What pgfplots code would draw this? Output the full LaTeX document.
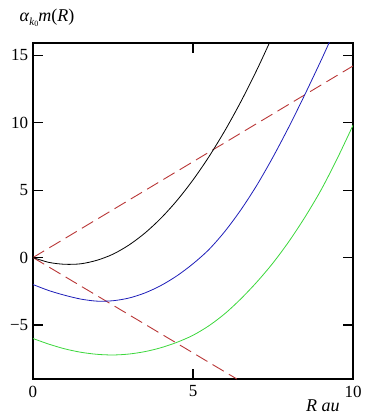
\documentclass[border=0pt]{standalone}
\usepackage{fontspec}
\setmainfont{Liberation Serif}
\usepackage{pgfplots}
\pgfplotsset{compat=1.18}
\definecolor{dred}{RGB}{185,55,55}
\definecolor{mblue}{RGB}{30,30,185}
\definecolor{mgreen}{RGB}{60,215,60}
\begin{document}
\fontsize{17}{20}\selectfont
\begin{tikzpicture}
\begin{axis}[
  at={(0,0)}, anchor=south west,
  scale only axis, width=320pt, height=336pt,
  xmin=0, xmax=10, ymin=-9, ymax=15.9,
  xtick={0,5,10}, ytick={-5,0,5,10,15},
  yticklabels={−5,0,5,10,15},
  tick align=inside, major tick length=10pt,
  axis line style={line width=1.1pt},
  every tick/.style={black, line width=1.1pt},
  tick label style={font=\fontsize{17}{20}\selectfont},
  /pgf/number format/assume math mode=true,
  xticklabel style={yshift=-1pt},
  yticklabel style={xshift=1pt},
  xlabel={\textit{R au}},
  xlabel style={at={(axis description cs:0.906,-0.08)}, anchor=center, font=\fontsize{18}{20}\selectfont},
  ylabel={\textit{α}\raisebox{-0.45ex}{\fontsize{11}{12}\selectfont\textit{k}\raisebox{-0.3ex}{\fontsize{8}{9}\selectfont 0}}\textit{m}(\textit{R})},
  ylabel style={rotate=-90, at={(axis description cs:0.044,1.075)}, anchor=center, font=\fontsize{18}{20}\selectfont},
  clip=true,
]
\addplot[dred, line width=0.9pt, dash pattern=on 13pt off 6pt] coordinates {(0,0) (10,14.2)};
\addplot[dred, line width=0.9pt, dash pattern=on 13pt off 6pt] coordinates {(0,0) (6.37,-9)};
\addplot[black, line width=0.8pt, smooth] coordinates {
(0,0) (0.5,-0.36) (1,-0.5) (1.5,-0.46) (2,-0.2) (2.5,0.25) (3,0.93) (3.5,1.82) (4,2.92) (4.5,4.23) (5,5.75) (5.5,7.48) (6,9.42) (6.5,11.57) (7,13.93) (7.4,15.97) (7.5,16.5)};
\addplot[mblue, line width=0.8pt, smooth] coordinates {
(0,-2) (0.5,-2.45) (1,-2.8) (1.5,-3.08) (2,-3.23) (2.5,-3.2) (3,-3.0) (3.5,-2.62) (4,-2.07) (4.5,-1.35) (5,-0.46) (5.5,0.6) (6,1.95) (6.5,3.55) (7,5.38) (7.5,7.45) (8,9.7) (8.5,12.1) (9,14.6) (9.25,15.9) (9.4,16.7)};
\addplot[mgreen, line width=0.8pt, smooth] coordinates {
(0,-6) (0.5,-6.42) (1,-6.77) (1.5,-7.02) (2,-7.17) (2.5,-7.22) (3,-7.15) (3.5,-6.97) (4,-6.68) (4.5,-6.28) (5,-5.76) (5.5,-5.05) (6,-4.15) (6.5,-3.05) (7,-1.8) (7.5,-0.4) (8,1.2) (8.5,3.0) (9,5.0) (9.5,7.3) (10,9.8)};
\end{axis}
\pgfresetboundingbox
\path[use as bounding box] (-33pt,-36pt) rectangle (333pt,379pt);
\end{tikzpicture}
\end{document}
